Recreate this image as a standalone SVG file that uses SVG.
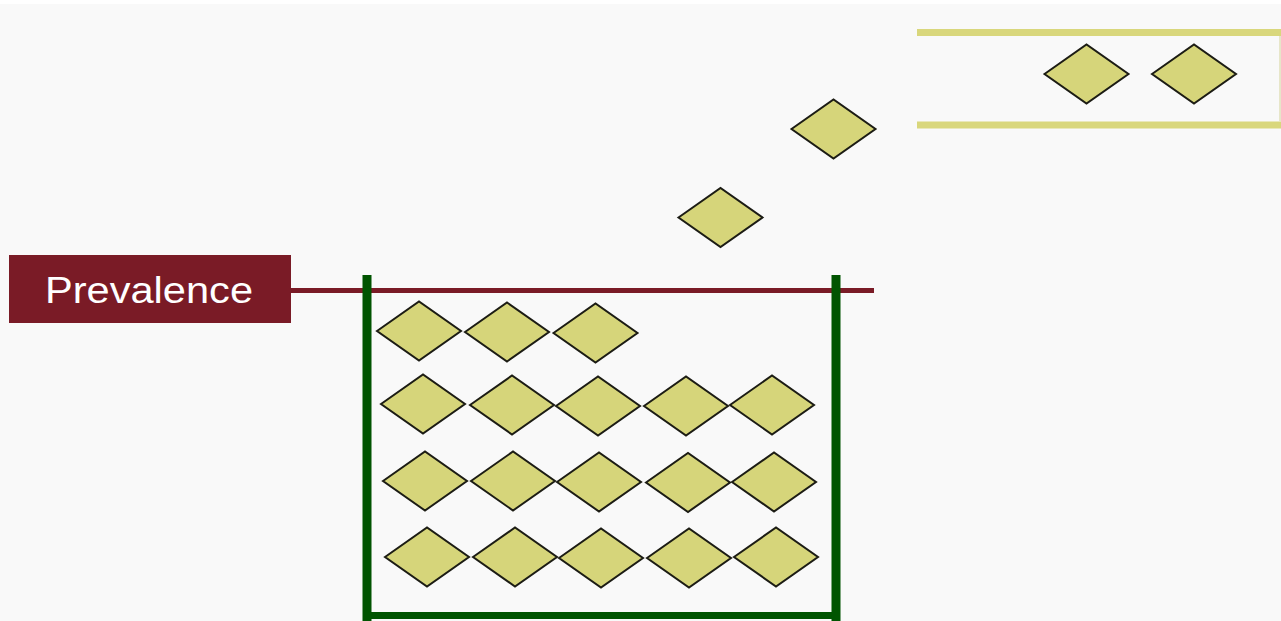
<svg xmlns="http://www.w3.org/2000/svg" width="1281" height="621" viewBox="0 0 1281 621">
<defs>
<style>
.d{fill:#d6d57a;stroke:#1c1c14;stroke-width:2;stroke-linejoin:miter}
.g{stroke:#015401;stroke-width:9;fill:none}
.y{stroke:#d9d77c;stroke-width:7;fill:none}
.lbl{font-family:"Liberation Sans",Arial,sans-serif;font-size:37px;fill:#ffffff}
</style>
<polygon id="dm" points="-42,0 0,-29.5 42,0 0,29.5"/>
</defs>
<rect x="0" y="0" width="1281" height="621" fill="#ffffff"/>
<rect x="0" y="4" width="1281" height="617" fill="#f9f9f9"/>

<g id="exit-channel">
<line class="y" x1="917" y1="32.5" x2="1281" y2="32.5"/>
<line class="y" x1="917" y1="125" x2="1281" y2="125"/>
<line x1="1280" y1="36" x2="1280" y2="121" stroke="#e0dfb8" stroke-width="1.5"/>
</g>

<g id="prevalence-label">
<rect x="9" y="255" width="282" height="68" fill="#7a1b26"/>
<text class="lbl" x="45" y="303" textLength="208" lengthAdjust="spacingAndGlyphs">Prevalence</text>
</g>

<g id="connectors">
<line x1="290" y1="290.5" x2="874" y2="290.5" stroke="#7a1b26" stroke-width="5"/>
</g>

<g id="bucket">
<line class="g" x1="367" y1="275" x2="367" y2="621"/>
<line class="g" x1="836" y1="275" x2="836" y2="621"/>
<line x1="363" y1="615.5" x2="840" y2="615.5" stroke="#015401" stroke-width="7"/>
</g>

<g id="diamonds">
<use href="#dm" class="d" x="1086.5" y="74"/>
<use href="#dm" class="d" x="1194" y="74"/>
<use href="#dm" class="d" x="833.5" y="129"/>
<use href="#dm" class="d" x="720.5" y="217.5"/>

<use href="#dm" class="d" x="419" y="331"/>
<use href="#dm" class="d" x="507" y="332"/>
<use href="#dm" class="d" x="595.5" y="333"/>

<use href="#dm" class="d" x="423" y="404"/>
<use href="#dm" class="d" x="512" y="405"/>
<use href="#dm" class="d" x="598" y="406"/>
<use href="#dm" class="d" x="686" y="406"/>
<use href="#dm" class="d" x="772" y="405"/>

<use href="#dm" class="d" x="425" y="481"/>
<use href="#dm" class="d" x="513" y="481"/>
<use href="#dm" class="d" x="599" y="482"/>
<use href="#dm" class="d" x="688" y="482.5"/>
<use href="#dm" class="d" x="774" y="482"/>

<use href="#dm" class="d" x="427" y="557"/>
<use href="#dm" class="d" x="515" y="557"/>
<use href="#dm" class="d" x="601" y="558"/>
<use href="#dm" class="d" x="689" y="558"/>
<use href="#dm" class="d" x="776" y="557"/>
</g>
</svg>
